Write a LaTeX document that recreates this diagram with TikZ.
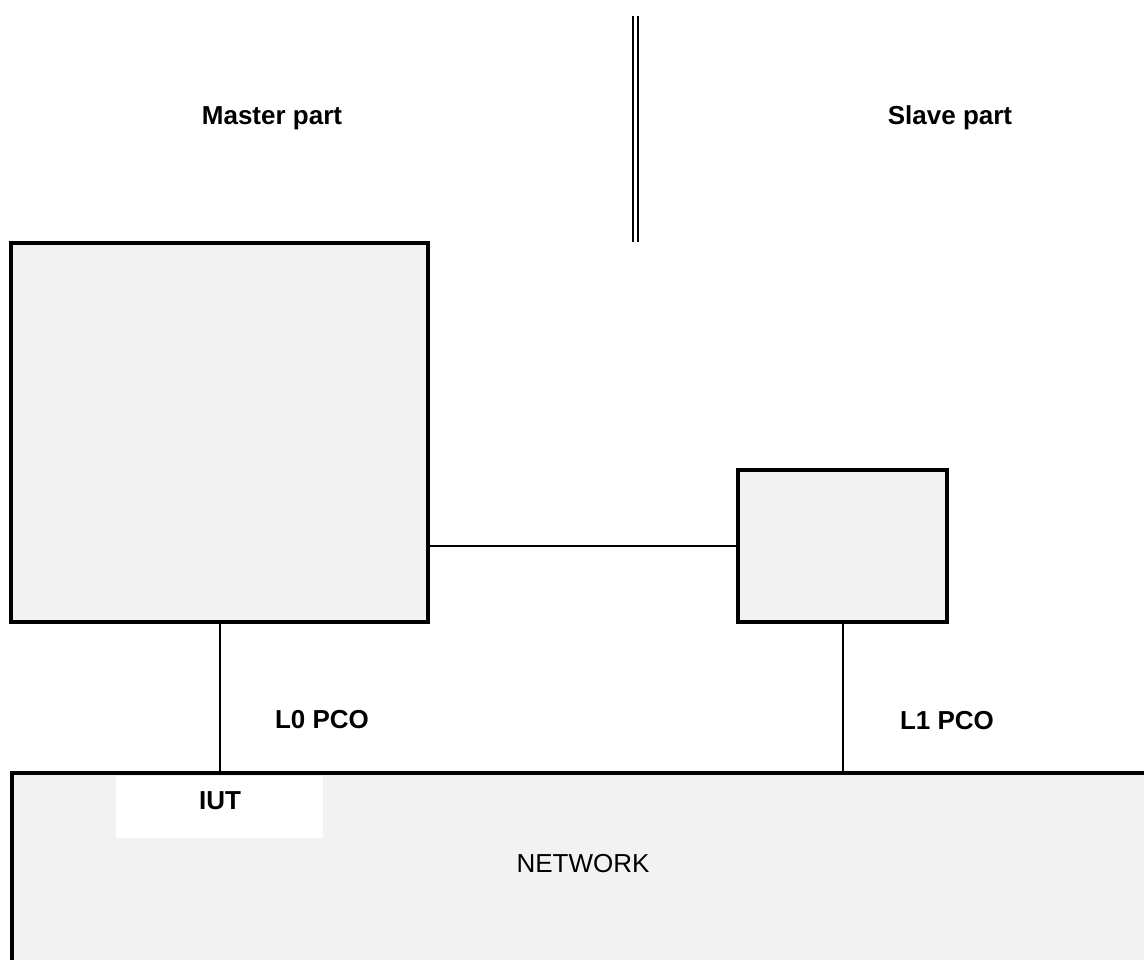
\documentclass[tikz,border=0pt]{standalone}
\usepackage{fontspec}
\setmainfont{Liberation Sans}
\usepackage{xcolor}
\usepackage{tikz}
\definecolor{boxgray}{HTML}{F2F2F2}
\tikzstyle{unit} = [rectangle, draw=black, line width=3.5pt, fill=boxgray, inner sep=0pt]
\tikzstyle{label} = [font=\fontsize{26}{30}\selectfont\bfseries, anchor=base, inner sep=0pt]
\tikzstyle{link} = [line width=2pt]

\begin{document}
\begin{tikzpicture}[x=1pt, y=-1pt]
				\useasboundingbox (0,0) rectangle (1144,960);
				\node (network) [rectangle, fill=boxgray, minimum width=1134pt, minimum height=188pt, inner sep=0pt] at (579,867) {};
				\draw [line width=3.5pt] (network.south west) -- (network.north west) -- (network.north east);
				\node (iutbox) [rectangle, fill=white, minimum width=207pt, minimum height=62pt, inner sep=0pt] at (219.5,807) {};
				\node (iut) [label] at (220,809) {IUT};
				\node (net) [label, font=\fontsize{26}{30}\selectfont] at (583,872) {NETWORK};
				\node (master) [unit, minimum width=417pt, minimum height=379pt] at (219.5,432.5) {};
				\node (slave) [unit, minimum width=209pt, minimum height=152pt] at (842.5,546) {};
				\node (masterpart) [label] at (272,125) {Master part};
				\node (slavepart) [label] at (950,125) {Slave part};
				\node (lzero) [label] at (322,728) {L0 PCO};
				\node (lone) [label] at (947,729) {L1 PCO};
				\coordinate (divtop) at (635.5,16);
				\coordinate (divbot) at (635.5,242);
				\draw [line width=2.3pt] ([xshift=-2.7pt]divtop) -- ([xshift=-2.7pt]divbot);
				\draw [line width=2.3pt] ([xshift=2.7pt]divtop) -- ([xshift=2.7pt]divbot);
				\draw [link] (master.east |- slave.west) -- (slave.west);
				\draw [link] (master.south) -- (master.south |- network.north);
				\draw [link] (slave.south) -- (slave.south |- network.north);
			\end{tikzpicture}
\end{document}
